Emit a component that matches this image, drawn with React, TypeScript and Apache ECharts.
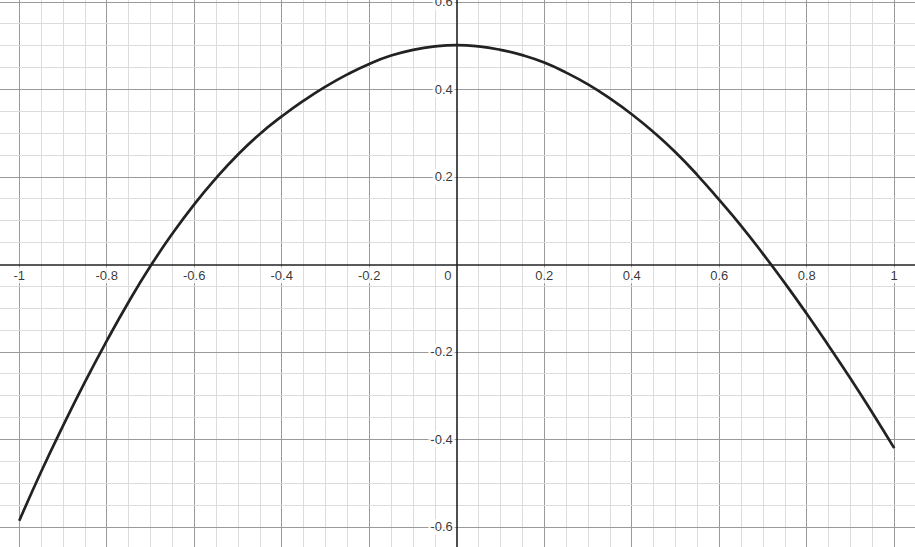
import React, { useEffect, useRef } from "react";
import * as echarts from "echarts";

// Curve samples
const X_VALUES = [
  -1, -0.95, -0.9, -0.85, -0.8, -0.75, -0.7, -0.65, -0.6, -0.55, -0.5, -0.45, -0.4, -0.35, -0.3, -0.25, -0.2,
  -0.15, -0.1, -0.05, 0, 0.05, 0.1, 0.15, 0.2, 0.25, 0.3, 0.35, 0.4, 0.45, 0.5, 0.55, 0.6, 0.65, 0.7, 0.75,
  0.8, 0.85, 0.9, 0.95, 1,
];
const Y_VALUES = [
  -0.586, -0.474, -0.369, -0.269, -0.175, -0.086, -0.004, 0.07, 0.137, 0.197, 0.251, 0.298, 0.338, 0.374, 0.406,
  0.434, 0.458, 0.477, 0.49, 0.498, 0.501, 0.498, 0.49, 0.478, 0.461, 0.438, 0.411, 0.379, 0.343, 0.302, 0.256,
  0.204, 0.147, 0.088, 0.024, -0.043, -0.113, -0.186, -0.261, -0.339, -0.42,
];

// Tick labels
const X_TICKS = [-1, -0.8, -0.6, -0.4, -0.2, 0, 0.2, 0.4, 0.6, 0.8, 1];
const Y_TICKS = [-0.6, -0.4, -0.2, 0.2, 0.4, 0.6];

// Grid line values (major every 0.2, minor every 0.05)
const X_GRID = [
  -1, -0.95, -0.9, -0.85, -0.8, -0.75, -0.7, -0.65, -0.6, -0.55, -0.5, -0.45, -0.4, -0.35, -0.3, -0.25, -0.2,
  -0.15, -0.1, -0.05, 0.05, 0.1, 0.15, 0.2, 0.25, 0.3, 0.35, 0.4, 0.45, 0.5, 0.55, 0.6, 0.65, 0.7, 0.75, 0.8,
  0.85, 0.9, 0.95, 1,
];
const Y_GRID = [
  -0.6, -0.55, -0.5, -0.45, -0.4, -0.35, -0.3, -0.25, -0.2, -0.15, -0.1, -0.05, 0.05, 0.1, 0.15, 0.2, 0.25, 0.3,
  0.35, 0.4, 0.45, 0.5, 0.55, 0.6,
];

const X_MIN = -1.044;
const X_MAX = 1.0475;
const Y_MIN = -0.646;
const Y_MAX = 0.604;

const FONT = "'Liberation Sans', Arial, sans-serif";
const MAJOR = "#9a9a9a";
const MINOR = "#dcdcdc";
const INK = "#222222";
const LABEL_SIZE = 13;

const isMajor = (v: number) => Math.abs(v / 0.2 - Math.round(v / 0.2)) < 1e-6;

export default function App() {
  const ref = useRef<HTMLDivElement>(null);

  useEffect(() => {
    if (!ref.current) return;
    const chart = echarts.init(ref.current, undefined, { renderer: "svg" });

    const gridLines: any[] = [];
    X_GRID.forEach((v) => {
      gridLines.push({
        xAxis: v,
        lineStyle: { color: isMajor(v) ? MAJOR : MINOR, width: 1, type: "solid" },
      });
    });
    Y_GRID.forEach((v) => {
      gridLines.push({
        yAxis: v,
        lineStyle: { color: isMajor(v) ? MAJOR : MINOR, width: 1, type: "solid" },
      });
    });

    const axisCommon = {
      type: "value",
      z: 3,
      axisLine: { onZero: true, lineStyle: { color: INK, width: 1.6 } },
      axisTick: { show: false },
      axisLabel: { show: false },
      splitLine: { show: false },
      minorSplitLine: { show: false },
    };

    const tickLabel = {
      show: true,
      fontSize: LABEL_SIZE,
      fontFamily: FONT,
      color: "#000",
      backgroundColor: "#ffffff",
      padding: [1, 2, 0, 2],
      lineHeight: 15,
    };

    chart.setOption({
      animation: false,
      backgroundColor: "#ffffff",
      textStyle: { fontFamily: FONT, fontSize: LABEL_SIZE },
      grid: { left: 0, right: 0, top: 0, bottom: 0, containLabel: false, outerBoundsMode: "none" },
      xAxis: { ...axisCommon, min: X_MIN, max: X_MAX },
      yAxis: { ...axisCommon, min: Y_MIN, max: Y_MAX },
      series: [
        {
          type: "line",
          data: [],
          silent: true,
          z: 1,
          markLine: {
            z: 1,
            silent: true,
            symbol: ["none", "none"],
            label: { show: false },
            emphasis: { disabled: true },
            animation: false,
            data: gridLines,
          },
        },
        {
          // x tick labels, placed on the x axis through the axes' scales
          type: "scatter",
          z: 3,
          silent: true,
          clip: false,
          symbolSize: 0,
          data: X_TICKS.map((v) =>
            v === 0 ? { value: [v, 0], label: { offset: [-9, 0] } } : { value: [v, 0] }
          ),
          label: {
            ...tickLabel,
            position: "bottom",
            distance: 3,
            formatter: (p: any) => String(p.value[0]),
          },
        },
        {
          // y tick labels, placed on the y axis
          type: "scatter",
          z: 3,
          silent: true,
          clip: false,
          symbolSize: 0,
          data: Y_TICKS.map((v) => [0, v]),
          label: {
            ...tickLabel,
            position: "left",
            distance: 2,
            formatter: (p: any) => String(p.value[1]),
          },
        },
        {
          type: "line",
          z: 4,
          data: X_VALUES.map((x, i) => [x, Y_VALUES[i]]),
          smooth: true,
          showSymbol: false,
          silent: true,
          lineStyle: { color: INK, width: 2.7 },
          itemStyle: { color: INK },
        },
      ],
    });

    return () => chart.dispose();
  }, []);

  return (
    <div
      ref={ref}
      style={{ position: "fixed", left: 0, top: 0, width: 915, height: 547, background: "#fff" }}
    />
  );
}
